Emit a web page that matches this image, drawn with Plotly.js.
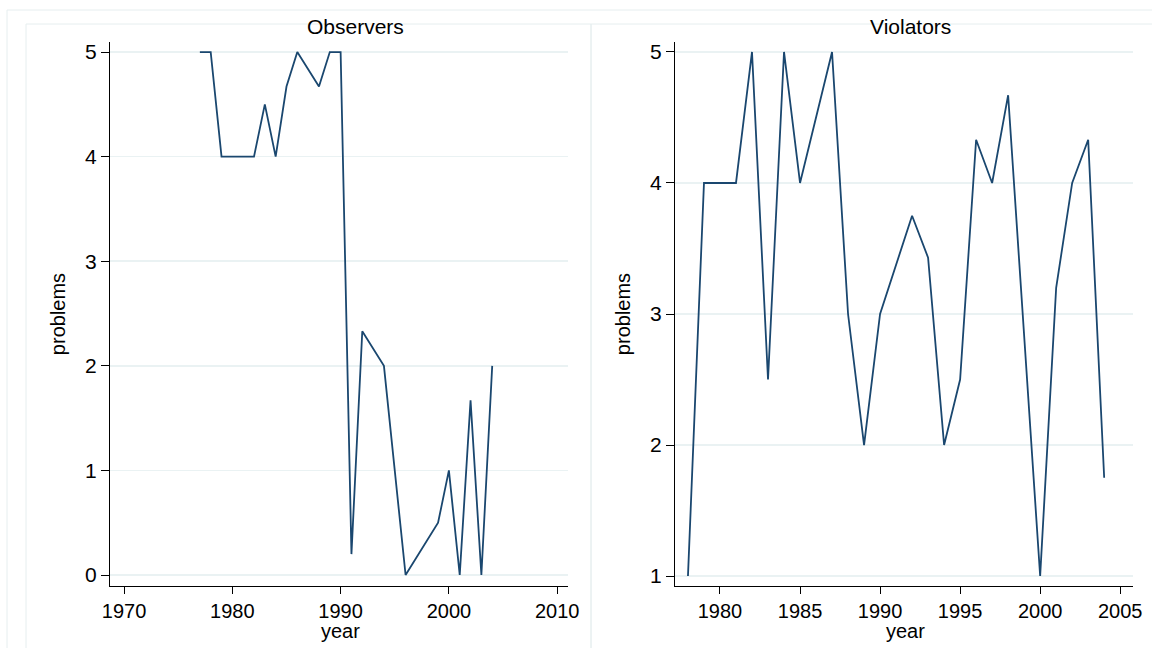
<!DOCTYPE html>
<html>
<head>
<meta charset="utf-8">
<script src="https://cdn.plot.ly/plotly-3.0.1.min.js"></script>
<style>html,body{margin:0;padding:0;background:#fff;}#chart{width:1152px;height:648px;}</style>
</head>
<body>
<div id="chart"></div>
<script>
// Observers panel
const obsYears = [1977, 1978, 1979, 1980, 1981, 1982, 1983, 1984, 1985, 1986, 1988, 1989, 1990, 1991, 1992, 1994, 1996, 1999, 2000, 2001, 2002, 2003, 2004];
const obsProblems = [5, 5, 4, 4, 4, 4, 4.5, 4, 4.67, 5, 4.67, 5, 5, 0.2, 2.33, 2, 0, 0.5, 1, 0, 1.67, 0, 2];
// Violators panel
const vioYears = [1978, 1979, 1980, 1981, 1982, 1983, 1984, 1985, 1987, 1988, 1989, 1990, 1992, 1993, 1994, 1995, 1996, 1997, 1998, 2000, 2001, 2002, 2003, 2004];
const vioProblems = [1, 4, 4, 4, 5, 2.5, 5, 4, 5, 3, 2, 3, 3.75, 3.43, 2, 2.5, 4.33, 4, 4.67, 1, 3.2, 4, 4.33, 1.75];

const panelTitles = ["Observers", "Violators"];
const xTitle = "year";
const yTitle = "problems";
const obsXTicks = [1970, 1980, 1990, 2000, 2010];
const obsYTicks = [0, 1, 2, 3, 4, 5];
const vioXTicks = [1980, 1985, 1990, 1995, 2000, 2005];
const vioYTicks = [1, 2, 3, 4, 5];

const W = 1152, H = 648;
const px = v => v / W;
const py = v => 1 - v / H;

const lineColor = "#1a476f";
const gridColor = "#eaf2f3";
const frameColor = "#e6eeef";
const font = "Liberation Sans, Arial, sans-serif";

const traces = [
  {x: obsYears, y: obsProblems, type: "scatter", mode: "lines", xaxis: "x", yaxis: "y",
   line: {color: lineColor, width: 1.8}, showlegend: false, hoverinfo: "x+y"},
  {x: vioYears, y: vioProblems, type: "scatter", mode: "lines", xaxis: "x2", yaxis: "y2",
   line: {color: lineColor, width: 1.8}, showlegend: false, hoverinfo: "x+y"}
];

function xax(domain, range, ticks, anchor) {
  return {
    domain: domain, range: range, anchor: anchor,
    tickmode: "array", tickvals: ticks, ticktext: ticks.map(String),
    ticks: "outside", ticklen: 7, tickwidth: 1, tickcolor: "#000",
    showline: true, linecolor: "#000", linewidth: 1,
    showgrid: false, zeroline: false,
    tickfont: {family: font, size: 20, color: "#000"},
    automargin: false, fixedrange: true
  };
}
function yax(domain, range, ticks, anchor) {
  return {
    domain: domain, range: range, anchor: anchor,
    tickmode: "array", tickvals: ticks, ticktext: ticks.map(String),
    ticks: "outside", ticklen: 8, tickwidth: 1, tickcolor: "#000",
    showline: true, linecolor: "#000", linewidth: 1,
    showgrid: true, gridcolor: gridColor, gridwidth: 1.5, zeroline: false,
    tickfont: {family: font, size: 21, color: "#000"},
    title: {text: yTitle, font: {family: font, size: 20, color: "#000"}, standoff: 14},
    automargin: false, fixedrange: true
  };
}

function label(text, x, y, size) {
  return {text: text, xref: "paper", yref: "paper", x: px(x), y: py(y), xanchor: "center", yanchor: "middle",
          showarrow: false, font: {family: font, size: size, color: "#000"}};
}

const yDom = [py(586), py(42)];
const layout = {
  width: W, height: H,
  margin: {l: 0, r: 0, t: 0, b: 0},
  paper_bgcolor: "#fff", plot_bgcolor: "#fff",
  showlegend: false,
  xaxis: xax([px(110), px(568)], [1968.7, 2011.0], obsXTicks, "y"),
  yaxis: yax(yDom, [-0.105, 5.096], obsYTicks, "x"),
  xaxis2: xax([px(675), px(1133)], [1977.19, 2005.8], vioXTicks, "y2"),
  yaxis2: yax(yDom, [0.924, 5.076], vioYTicks, "x2"),
  annotations: [
    label(panelTitles[0], 355, 27, 21),
    label(panelTitles[1], 910, 27, 21),
    label(xTitle, 340, 631, 20),
    label(xTitle, 905, 631, 20)
  ],
  shapes: [
    {type: "rect", xref: "paper", yref: "paper", x0: px(7), x1: px(1160), y0: py(660), y1: py(10),
     line: {color: frameColor, width: 1}, layer: "below"},
    {type: "rect", xref: "paper", yref: "paper", x0: px(26), x1: px(591), y0: py(660), y1: py(24),
     line: {color: frameColor, width: 1}, layer: "below"},
    {type: "rect", xref: "paper", yref: "paper", x0: px(591), x1: px(1170), y0: py(660), y1: py(24),
     line: {color: frameColor, width: 1}, layer: "below"}
  ]
};

Plotly.newPlot("chart", traces, layout, {displayModeBar: false, staticPlot: true});
</script>
</body>
</html>
